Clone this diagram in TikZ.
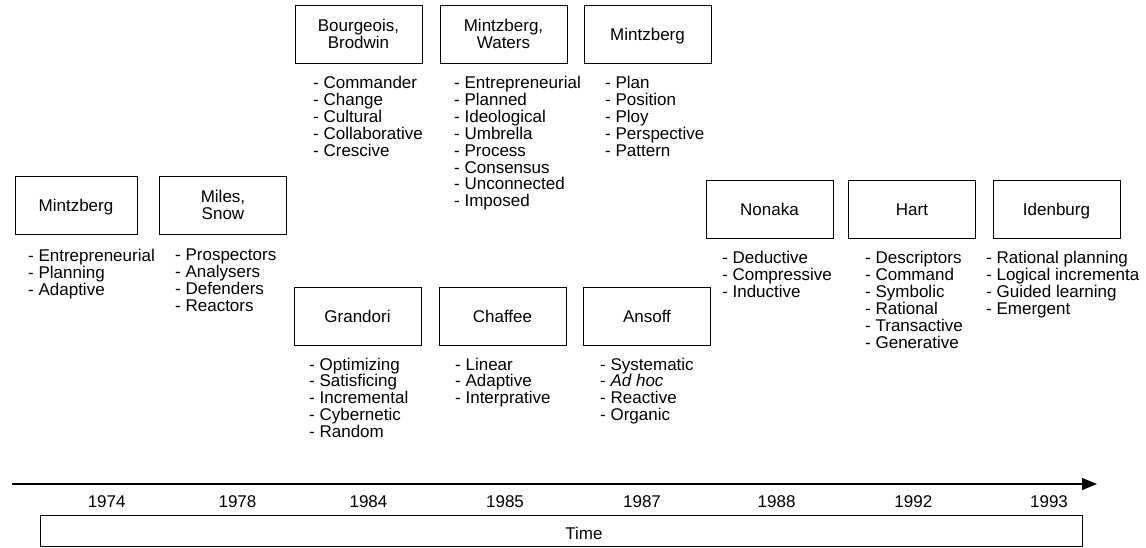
\documentclass[tikz,border=0pt]{standalone}
\usepackage{fontspec}
\setmainfont{Liberation Sans}
\usetikzlibrary{arrows.meta}
\begin{document}
\begin{tikzpicture}[x=1pt,y=-1pt,
  every node/.style={font=\fontsize{17}{16.9}\selectfont, inner sep=0pt},
  author/.style={draw, line width=0.9pt, minimum width=127pt, minimum height=58pt, align=center},
  single/.style={text height=12.2pt, text depth=0pt},
  items/.style={anchor=north west, align=left},
  year/.style={anchor=base},
  axis/.style={line width=1.2pt, -{Triangle[length=15pt,width=12pt]}}
]
\useasboundingbox (0,0) rectangle (1146,547);

% author boxes
\node[author, single, minimum width=122pt] (mintz74) at (76,205) {Mintzberg};
\node[author] (miles) at (223,205) {Miles,\\Snow};
\node[author] (bourg) at (358.5,34) {Bourgeois,\\Brodwin};
\node[author] (mintzw) at (503.5,34) {Mintzberg,\\Waters};
\node[author, single] (mintz87) at (647.5,34.5) {Mintzberg};
\node[author, single] (grand) at (357.5,316) {Grandori};
\node[author, single] (chaff) at (502.5,316) {Chaffee};
\node[author, single] (ansoff) at (647,316) {Ansoff};
\node[author, single] (nonaka) at (769.5,209) {Nonaka};
\node[author, single] (hart) at (912,209) {Hart};
\node[author, single] (idenb) at (1056.5,209) {Idenburg};

% strategy types under each box
\node[items] (l-mintz74) at (28,249) {- Entrepreneurial\\- Planning\\- Adaptive};
\node[items] (l-miles) at (175,249) {- Prospectors\\- Analysers\\- Defenders\\- Reactors};
\node[items] (l-bourg) at (313,76) {- Commander\\- Change\\- Cultural\\- Collaborative\\- Crescive};
\node[items] (l-mintzw) at (454,76) {- Entrepreneurial\\- Planned\\- Ideological\\- Umbrella\\- Process\\- Consensus\\- Unconnected\\- Imposed};
\node[items] (l-mintz87) at (605,76) {- Plan\\- Position\\- Ploy\\- Perspective\\- Pattern};
\node[items] (l-grand) at (309,357.5) {- Optimizing\\- Satisficing\\- Incremental\\- Cybernetic\\- Random};
\node[items] (l-chaff) at (455,357.5) {- Linear\\- Adaptive\\- Interprative};
\node[items] (l-ansoff) at (600,357.5) {- Systematic\\- \textit{Ad hoc}\\- Reactive\\- Organic};
\node[items] (l-nonaka) at (722,251) {- Deductive\\- Compressive\\- Inductive};
\node[items] (l-hart) at (865,251) {- Descriptors\\- Command\\- Symbolic\\- Rational\\- Transactive\\- Generative};
\node[items] (l-idenb) at (986,251) {- Rational planning\\- Logical incrementa\\- Guided learning\\- Emergent};

% time axis
\coordinate (axisstart) at (12,484);
\coordinate (axisend) at (1097,484);
\draw[axis] (axisstart) -- (axisend);

\node[year] (y1974) at (106.7,507) {1974};
\node[year] (y1978) at (237.5,507) {1978};
\node[year] (y1984) at (368.5,507) {1984};
\node[year] (y1985) at (505,507) {1985};
\node[year] (y1987) at (642,507) {1987};
\node[year] (y1988) at (776.6,507) {1988};
\node[year] (y1992) at (913.3,507) {1992};
\node[year] (y1993) at (1049,507) {1993};

\node[draw, line width=0.9pt, minimum width=1042pt, minimum height=31pt] (timebox) at (561,531) {};
\node[anchor=base] (timelbl) at (584,539) {Time};
\end{tikzpicture}
\end{document}
